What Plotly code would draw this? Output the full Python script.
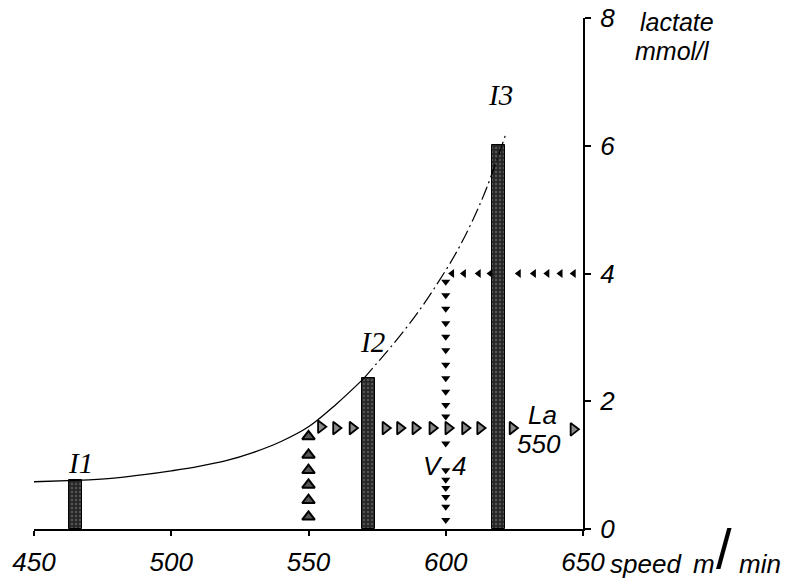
import plotly.graph_objects as go

# ---- data ----
bar_names = ["I1", "I2", "I3"]
bar_speed = [465.2, 571.8, 619.3]
bar_lactate = [0.77, 2.36, 6.01]

curve_speed = [450, 465, 470, 480, 490, 500, 510, 520, 530, 540, 550, 560, 570,
               575, 580, 590, 600, 605, 610, 615, 622]
curve_lactate = [0.74, 0.76, 0.77, 0.80, 0.85, 0.91, 0.98, 1.07, 1.20, 1.37, 1.60,
                 1.95, 2.35, 2.60, 2.85, 3.40, 4.05, 4.42, 4.85, 5.35, 6.20]

up_speed = [550, 550, 550, 550, 550, 550]
up_lactate = [0.19, 0.45, 0.69, 0.92, 1.16, 1.45]

right_speed = [554.5, 560, 566, 578, 583.3, 588.9, 595.1, 600.9, 607, 612.5, 624.3, 646.5]
right_lactate = [1.6, 1.58, 1.58, 1.58, 1.58, 1.58, 1.58, 1.58, 1.58, 1.58, 1.58, 1.56]

down_speed = [600] * 18
down_lactate = [3.87, 3.66, 3.45, 3.22, 3.01, 2.80, 2.57, 2.36, 2.15, 1.94, 1.76,
                1.34, 0.92, 0.77, 0.64, 0.50, 0.35, 0.14]

left_speed = [602.3, 606.6, 612, 616.3, 626.6, 632.1, 637, 641.8, 646.6]
left_lactate = [4.0] * 9

x_ticks = [450, 500, 550, 600, 650]
y_ticks = [0, 2, 4, 6, 8]

SANS = "Liberation Sans"
SERIF = "Liberation Serif"

fig = go.Figure()

fig.add_trace(go.Bar(
    x=bar_speed, y=bar_lactate, width=4.6,
    marker=dict(color="#262626", line=dict(color="black", width=1),
                pattern=dict(shape=".", fgcolor="#808080", bgcolor="#262626",
                             size=4, solidity=0.3)),
    showlegend=False, hoverinfo="skip"))

# lower solid part of curve, upper part printed broken
n_solid = curve_speed.index(570) + 1
fig.add_trace(go.Scatter(
    x=curve_speed[:n_solid], y=curve_lactate[:n_solid], mode="lines",
    line=dict(color="black", width=1.3, shape="spline"), showlegend=False))
fig.add_trace(go.Scatter(
    x=curve_speed[n_solid - 1:], y=curve_lactate[n_solid - 1:], mode="lines",
    line=dict(color="black", width=1.2, shape="spline", dash="14px,4px,2px,4px"),
    showlegend=False))

fig.add_trace(go.Scatter(
    x=up_speed, y=up_lactate, mode="markers",
    marker=dict(symbol="triangle-up", size=11, color="#555",
                line=dict(color="black", width=2)), showlegend=False))
fig.add_trace(go.Scatter(
    x=right_speed, y=right_lactate, mode="markers",
    marker=dict(symbol="triangle-right", size=11, color="#8a8a8a",
                line=dict(color="black", width=1.8)), showlegend=False))
fig.add_trace(go.Scatter(
    x=down_speed, y=down_lactate, mode="markers",
    marker=dict(symbol="triangle-down", size=8, color="black"), showlegend=False))
fig.add_trace(go.Scatter(
    x=left_speed, y=left_lactate, mode="markers",
    marker=dict(symbol="triangle-left", size=8, color="black"), showlegend=False))

ann = []
label_pos = {"I1": (466.8, 1.04), "I2": (573.3, 2.92), "I3": (620.0, 6.79)}
for name in bar_names:
    lx, ly = label_pos[name]
    ann.append(dict(x=lx, y=ly, text=name, showarrow=False,
                    font=dict(family=SERIF, size=29, style="italic", color="black")))

txt = dict(family=SANS, size=26, style="italic", color="black")
ann += [
    dict(x=595.2, y=0.99, text="V", showarrow=False, font=txt),
    dict(x=604.8, y=0.99, text="4", showarrow=False, font=txt),
    dict(x=635.3, y=1.78, text="La", showarrow=False, font=txt),
    dict(x=634.0, y=1.33, text="550", showarrow=False, font=txt),
]
P = dict(xref="paper", yref="paper", showarrow=False, yanchor="middle")
txt27 = dict(family=SANS, size=26, style="italic", color="black")
txt25 = dict(family=SANS, size=25, style="italic", color="black")
ann += [
    dict(x=1.046, y=-0.069, text="speed", xanchor="left", font=txt27, **P),
    dict(x=1.197, y=-0.069, text="m", xanchor="left", font=txt27, **P),
    dict(x=1.256, y=-0.038, text="/", xanchor="center",
         font=dict(family=SANS, size=56, color="black"), **P),
    dict(x=1.281, y=-0.069, text="min", xanchor="left", font=txt27, **P),
    dict(x=1.100, y=0.992, text="lactate", xanchor="left", font=txt25, **P),
    dict(x=1.091, y=0.935, text="mmol/l", xanchor="left", font=txt25, **P),
]

fig.update_layout(
    width=800, height=584,
    margin=dict(l=34, r=217, t=18, b=55),
    paper_bgcolor="white", plot_bgcolor="white",
    bargap=0,
    annotations=ann,
    xaxis=dict(range=[450, 650], showline=True, linecolor="black", linewidth=2,
               ticks="outside", ticklen=5, tickwidth=1.5, tickcolor="black",
               tickvals=x_ticks,
               showgrid=False, zeroline=False, automargin=False,
               tickfont=dict(family=SANS, size=26, style="italic", color="black"),
               ticklabelstandoff=4),
    yaxis=dict(range=[0, 8], side="right", showline=True, linecolor="black", linewidth=2,
               ticks="outside", ticklen=6, tickwidth=1.5, tickcolor="black",
               tickvals=y_ticks, showgrid=False, zeroline=False, automargin=False,
               tickfont=dict(family=SANS, size=26, style="italic", color="black"),
               ticklabelstandoff=4),
)

fig.write_html("out.html", config={"displayModeBar": False},
               post_script="document.body.style.margin='0';")
